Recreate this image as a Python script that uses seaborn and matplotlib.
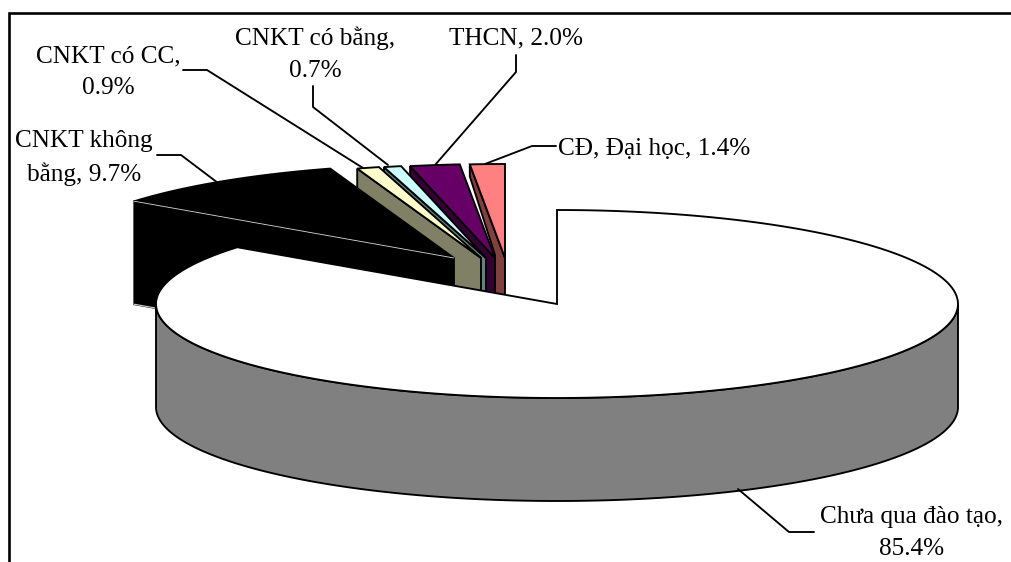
import numpy as np
import matplotlib
matplotlib.use('Agg')
import matplotlib.pyplot as plt
import seaborn as sns

categories = ['Chưa qua đào tạo', 'CNKT không bằng', 'CNKT có CC', 'CNKT có bằng', 'THCN', 'CĐ, Đại học']
shares = [85.4, 9.7, 0.9, 0.7, 2.0, 1.4]
labels = ['Chưa qua đào tạo,\n85.4%', 'CNKT không\nbằng, 9.7%', 'CNKT có CC,\n0.9%',
          'CNKT có bằng,\n0.7%', 'THCN, 2.0%', 'CĐ, Đại học, 1.4%']

sns.set_theme(style='white')
plt.rcParams['font.family'] = ['Liberation Serif', 'DejaVu Serif']

face_colors = sns.color_palette(['#FFFFFF', '#000000', '#FFFFCC', '#CCFFFF', '#660066', '#FF8080'])
wall_colors = sns.color_palette(['#808080', '#000000', '#808066', '#668080', '#330033', '#804040'])

# pie geometry in pixels, the axes are 1:1 with the image
cx, cy, rx, ry, depth = 557, 304, 401, 94, 103
shift_x = [0, -103, -76, -71, -62, -52]
shift_y = [0, -46, -46, -46, -46, -46]

label_pos = [(912, 533), (84, 158), (108, 72), (315, 54), (516, 38), (654, 149)]
leaders = [
    [(814, 532), (789, 532), (738, 489)],
    [(157, 155), (181, 155), (218, 183)],
    [(183, 70), (207, 70), (363, 168)],
    [(313, 86), (313, 107), (388, 165)],
    [(516, 55), (516, 72), (435, 165)],
    [(556, 146), (532, 146), (485, 164)],
]

edges = np.cumsum([0] + shares) / sum(shares) * 2 * np.pi

fig = plt.figure(figsize=(10.11, 5.62), dpi=100)
ax = fig.add_axes([0, 0, 1, 1])
ax.set_xlim(0, 1011)
ax.set_ylim(562, 0)
ax.axis('off')

lw = 1.35


def arc(t0, t1, x0, y0):
    t = np.linspace(t0, t1, 200)
    return x0 + rx * np.sin(t), y0 - ry * np.cos(t)


# back slices first, the big white one goes on top
for i in [5, 4, 3, 2, 1]:
    ax0, ay0 = cx + shift_x[i], cy + shift_y[i]
    xs, ys = arc(edges[i], edges[i + 1], ax0, ay0)
    if i == 5:
        # last wall is only a wedge next to the THCN slice
        wall_x = [xs[0], ax0, ax0, ax0 - 10, ax0 - 10, xs[0]]
        wall_y = [ys[0], ay0, ay0 + depth, ay0 + depth, ay0 - 3, ys[0] + 12]
    else:
        wall_x = [xs[0], ax0, ax0, xs[0]]
        wall_y = [ys[0], ay0, ay0 + depth, ys[0] + depth]
    ax.fill(wall_x, wall_y, fc=wall_colors[i], ec='black', lw=lw, joinstyle='miter')
    ax.fill(np.r_[ax0, xs], np.r_[ay0, ys], fc=face_colors[i], ec='black', lw=lw, joinstyle='miter')
    if i == 1:
        ax.plot([xs[0], ax0], [ys[0], ay0], color='#D8D8D8', lw=0.6, zorder=1)
        ax.plot([xs[0], ax0], [ys[0] + depth, ay0 + depth], color='#D8D8D8', lw=0.8, zorder=1)

# outer wall of the big slice, only the front half shows
xs, ys = arc(np.pi / 2, 3 * np.pi / 2, cx, cy)
ax.fill(np.r_[xs, xs[::-1]], np.r_[ys, ys[::-1] + depth], fc=wall_colors[0], ec='black', lw=lw)
xs, ys = arc(edges[0], edges[1], cx, cy)
ax.fill(np.r_[cx, xs], np.r_[cy, ys], fc=face_colors[0], ec='black', lw=lw, joinstyle='miter')

for line in leaders:
    ax.plot([p[0] for p in line], [p[1] for p in line], color='black', lw=lw)

for text, pos in zip(labels, label_pos):
    ax.text(pos[0], pos[1], text, ha='center', va='center', fontsize=18.2, color='black', linespacing=1.58)

# frame, only top and left fall inside the picture
ax.plot([9, 9, 1011], [562, 13, 13], color='black', lw=1.9, solid_joinstyle='miter')

fig.savefig('out.png', dpi=100)
